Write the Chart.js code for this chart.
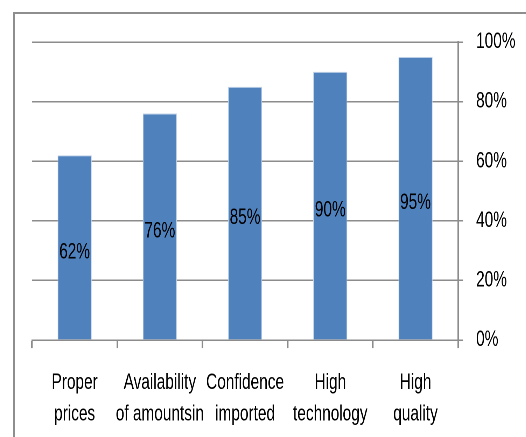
<!DOCTYPE html>
<html>
<head>
<meta charset="utf-8">
<script src="https://cdn.jsdelivr.net/npm/chart.js@4.4.1/dist/chart.umd.min.js"></script>
<style>
  html, body { margin: 0; padding: 0; background: #fff; overflow: hidden; }
  /* chart is laid out wider, then squeezed to get the narrow-font look */
  #wrap { position: absolute; left: 0; top: 0; width: 773px; height: 449px;
          transform: scaleX(0.7); transform-origin: 0 0; }
</style>
</head>
<body>
<div id="wrap"><canvas id="chart" width="773" height="449"></canvas></div>
<script>
// categories (two-line labels)
const categories = [
    ['Proper', 'prices'],
    ['Availability', 'of amountsin'],
    ['Confidence', 'imported'],
    ['High', 'technology'],
    ['High', 'quality']
];
// percentages
const values = [62, 76, 85, 90, 95];
const yTicks = [0, 20, 40, 60, 80, 100];

const SX = 0.7; // horizontal squeeze
const gridGray = '#8c8c8c';
const fontFam = '"Liberation Sans", Arial, sans-serif';

// outer frame + value labels in the middle of each bar
const framePlugin = {
    id: 'frame',
    beforeDraw(chart) {
        const c = chart.ctx;
        c.save();
        c.strokeStyle = '#8e8e8e';
        c.lineWidth = 2 / SX;
        c.beginPath();
        c.moveTo(14 / SX, 12);
        c.lineTo(14 / SX, 450);
        c.stroke();
        c.lineWidth = 2;
        c.beginPath();
        c.moveTo(13 / SX, 13);
        c.lineTo(790, 13);
        c.stroke();
        c.restore();
    },
    afterDatasetsDraw(chart) {
        const c = chart.ctx;
        const meta = chart.getDatasetMeta(0);
        c.save();
        c.font = '22px ' + fontFam;
        c.fillStyle = '#000';
        c.textAlign = 'center';
        c.textBaseline = 'middle';
        meta.data.forEach((bar, i) => {
            const mid = (bar.y + bar.base) / 2;
            c.fillText(values[i] + '%', bar.x, mid + 5);
        });
        c.restore();
    }
};

new Chart(document.getElementById('chart'), {
    type: 'bar',
    data: {
        labels: categories,
        datasets: [{
            data: values,
            backgroundColor: '#4f81bd',
            borderColor: '#c5d5ea',
            borderWidth: 1,
            barPercentage: 0.4,
            categoryPercentage: 1.0
        }]
    },
    options: {
        responsive: false,
        animation: false,
        devicePixelRatio: 2,
        layout: { padding: { left: 32 / SX, top: 42, right: 18, bottom: 0 } },
        plugins: { legend: { display: false }, tooltip: { enabled: false } },
        scales: {
            x: {
                offset: true,
                grid: {
                    offset: true,
                    drawOnChartArea: false,
                    color: gridGray,
                    lineWidth: 1.5 / SX,
                    tickLength: 8
                },
                border: { display: true, color: gridGray, width: 1.5 },
                ticks: {
                    color: '#000',
                    font: { family: fontFam, size: 22, lineHeight: 1.43 },
                    padding: 19,
                    maxRotation: 0,
                    autoSkip: false
                }
            },
            y: {
                position: 'right',
                min: 0,
                max: 100,
                afterBuildTicks(axis) {
                    axis.ticks = yTicks.map(v => ({ value: v }));
                },
                grid: {
                    color: gridGray,
                    lineWidth: 1.5,
                    tickLength: 5 / SX
                },
                border: { display: true, color: gridGray, width: 1.5 / SX },
                ticks: {
                    color: '#000',
                    font: { family: fontFam, size: 22 },
                    padding: 13 / SX,
                    callback: v => v + '%'
                }
            }
        }
    },
    plugins: [framePlugin]
});
</script>
</body>
</html>
